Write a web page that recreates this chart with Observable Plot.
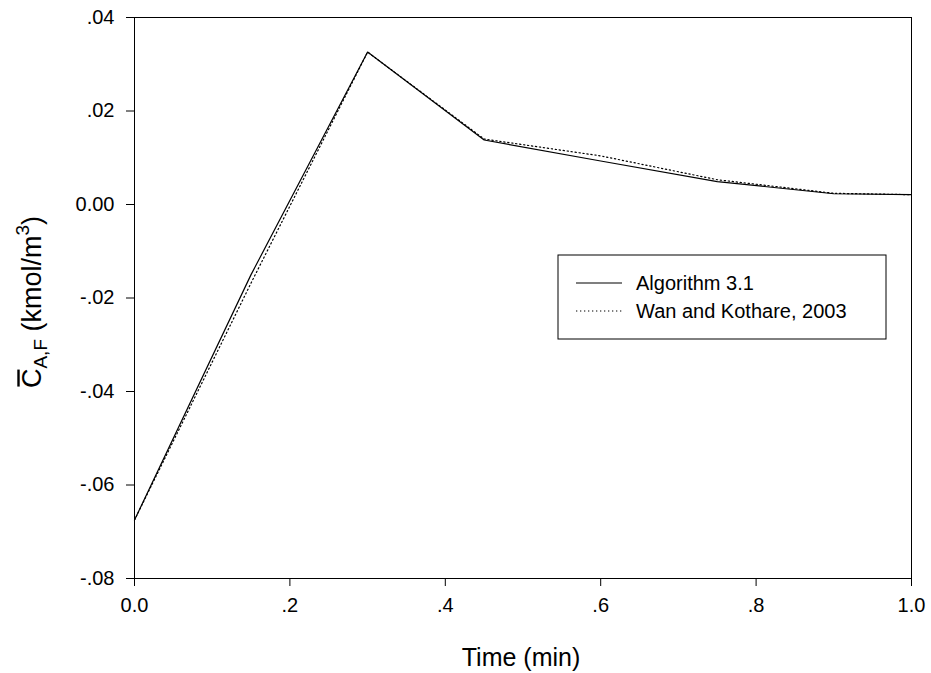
<!DOCTYPE html>
<html>
<head>
<meta charset="utf-8">
<script src="https://cdn.jsdelivr.net/npm/d3@7"></script>
<script src="https://cdn.jsdelivr.net/npm/@observablehq/plot@0.6"></script>
<style>
  html, body { margin: 0; padding: 0; background: #fff; }
  #chart { position: relative; width: 931px; height: 673px; }
  svg text { font-family: "Liberation Sans", Arial, sans-serif; }
</style>
</head>
<body>
<div id="chart"></div>
<script>
// ---- data ----
const time = [0, 0.15, 0.3, 0.45, 0.6, 0.75, 0.9, 1.0];
const algorithm31 = [-0.0675, -0.0150, 0.0326, 0.0138, 0.0093, 0.0049, 0.0023, 0.0021];
const wanKothare = [-0.0675, -0.0168, 0.0326, 0.0140, 0.0104, 0.0053, 0.0024, 0.0021];
const seriesNames = ["Algorithm 3.1", "Wan and Kothare, 2003"];
const seriesDash = ["none", "1.3,2.7"];
const xTicks = [0, 0.2, 0.4, 0.6, 0.8, 1.0];
const xTickLabels = ["0.0", ".2", ".4", ".6", ".8", "1.0"];
const yTicks = [0.04, 0.02, 0, -0.02, -0.04, -0.06, -0.08];
const yTickLabels = [".04", ".02", "0.00", "-.02", "-.04", "-.06", "-.08"];
const xTitle = "Time (min)";

const rows = [];
[algorithm31, wanKothare].forEach((vals, s) => {
  vals.forEach((v, i) => rows.push({t: time[i], v, series: seriesNames[s]}));
});

const fontFamily = '"Liberation Sans", Arial, sans-serif';
const fmtX = d => xTickLabels[xTicks.findIndex(t => Math.abs(t - d) < 1e-9)];
const fmtY = d => yTickLabels[yTicks.findIndex(t => Math.abs(t - d) < 1e-9)];

const svg = Plot.plot({
  width: 931,
  height: 673,
  marginLeft: 134,
  marginRight: 20,
  marginTop: 17,
  marginBottom: 95,
  style: {fontFamily, fontSize: "20px", color: "#000", background: "#fff", overflow: "visible"},
  x: {domain: [0, 1], label: null},
  y: {domain: [-0.08, 0.04], label: null},
  marks: [
    Plot.frame({stroke: "#000", strokeWidth: 1}),
    Plot.axisX({ticks: xTicks, tickFormat: fmtX, tickSize: 8, tickPadding: 11, label: null, fontSize: 20}),
    Plot.axisY({ticks: yTicks, tickFormat: fmtY, tickSize: 8, tickPadding: 12, label: null, fontSize: 20}),
    Plot.line(rows.filter(r => r.series === seriesNames[1]), {x: "t", y: "v", stroke: "#000", strokeWidth: 1.2, strokeDasharray: seriesDash[1]}),
    Plot.line(rows.filter(r => r.series === seriesNames[0]), {x: "t", y: "v", stroke: "#000", strokeWidth: 1.2})
  ]
});

document.getElementById("chart").appendChild(svg);

const sel = d3.select(svg);

// x-axis title
sel.append("text")
  .attr("x", 521).attr("y", 666)
  .attr("text-anchor", "middle")
  .attr("font-size", 25)
  .attr("fill", "#000")
  .text(xTitle);

// y-axis title (rotated, with overbar, subscript and superscript)
const yt = sel.append("g").attr("transform", "translate(41,302) rotate(-90)");
const ytext = yt.append("text").attr("text-anchor", "middle").attr("font-size", 27).attr("fill", "#000");
ytext.append("tspan").text("C");
ytext.append("tspan").attr("font-size", 19).attr("dy", 6).text("A,F");
ytext.append("tspan").attr("dy", -6).text(" (kmol/m");
ytext.append("tspan").attr("font-size", 19).attr("dy", -12).text("3");
ytext.append("tspan").attr("dy", 12).text(")");
const ext = ytext.node().getExtentOfChar(0);
yt.append("line")
  .attr("x1", ext.x + 1.5).attr("x2", ext.x + ext.width - 1)
  .attr("y1", ext.y + 1.5).attr("y2", ext.y + 1.5)
  .attr("stroke", "#000").attr("stroke-width", 2.4);

// legend
const lg = sel.append("g").attr("transform", "translate(558,255)");
lg.append("rect").attr("width", 328).attr("height", 84).attr("fill", "#fff").attr("stroke", "#000").attr("stroke-width", 1);
seriesNames.forEach((name, i) => {
  const y = 28 + i * 28;
  lg.append("line").attr("x1", 18).attr("x2", 64).attr("y1", y).attr("y2", y)
    .attr("stroke", "#000").attr("stroke-width", 1.2)
    .attr("stroke-dasharray", seriesDash[i]);
  lg.append("text").attr("x", 78).attr("y", y + 7).attr("text-anchor", "start")
    .attr("font-size", 20).attr("fill", "#000").text(name);
});
</script>
</body>
</html>
